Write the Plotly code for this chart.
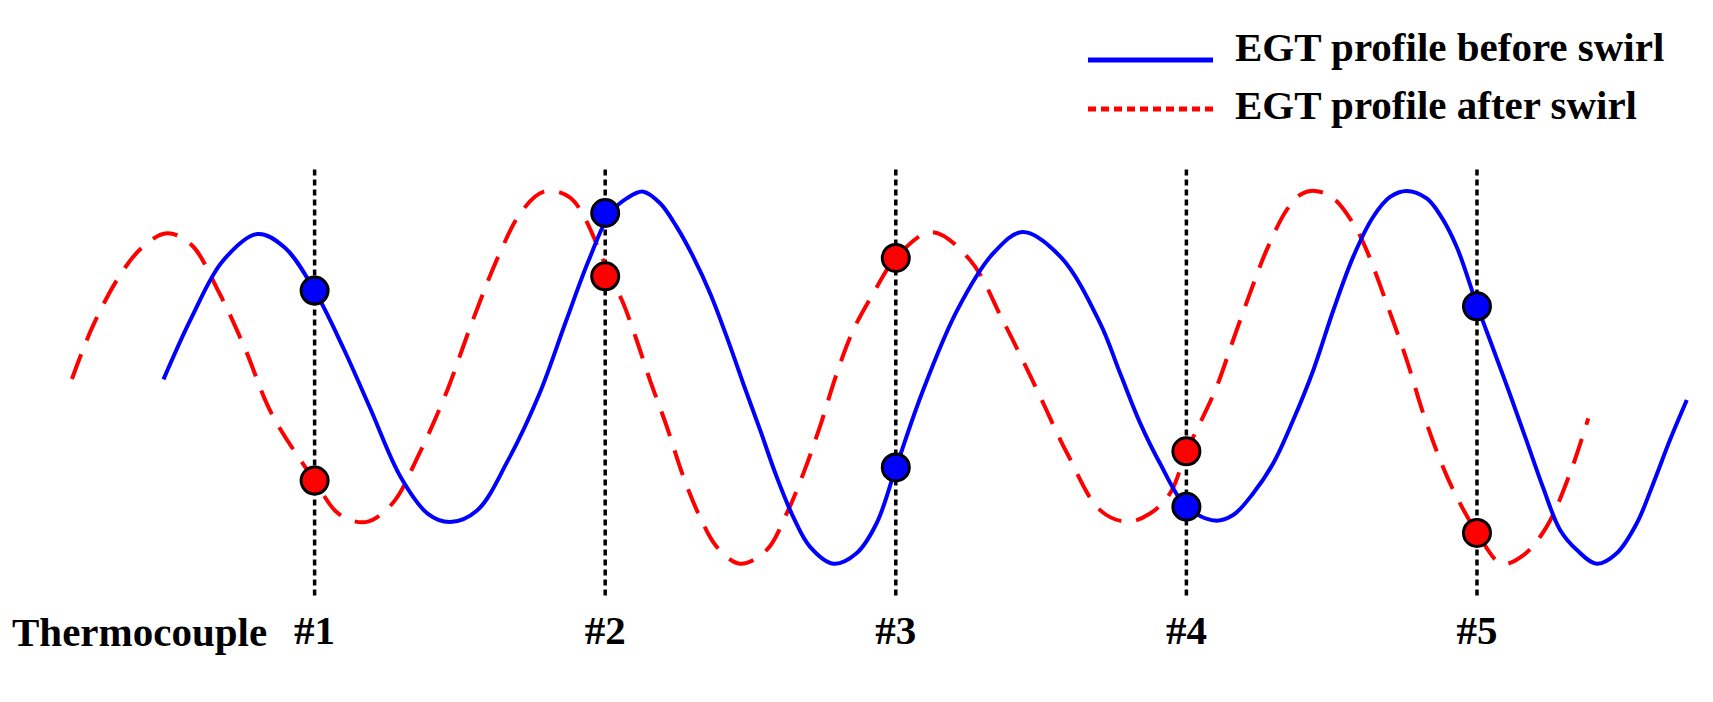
import plotly.graph_objects as go

# posicoes dos termopares e rotulos
tc_pos = [1, 2, 3, 4, 5]
tc_labels = ["#1", "#2", "#3", "#4", "#5"]

# perfil EGT antes do swirl
before_x = [0.480, 0.576, 0.684, 0.804, 0.898, 1.000, 1.098, 1.190, 1.297, 1.390,
            1.466, 1.559, 1.665, 1.773, 1.865, 1.942, 2.017, 2.074, 2.131, 2.189,
            2.246, 2.303, 2.361, 2.418, 2.475, 2.533, 2.590, 2.647, 2.705, 2.785,
            2.865, 2.934, 3.000, 3.090, 3.211, 3.335, 3.436, 3.568, 3.703, 3.772,
            3.841, 3.909, 4.000, 4.098, 4.161, 4.230, 4.299, 4.368, 4.437, 4.506,
            4.574, 4.643, 4.701, 4.758, 4.827, 4.873, 4.930, 5.000, 5.056, 5.114,
            5.171, 5.228, 5.286, 5.343, 5.412, 5.481, 5.550, 5.607, 5.664, 5.722]
before_y = [0.492, 0.656, 0.808, 0.880, 0.843, 0.729, 0.577, 0.417, 0.230, 0.133,
            0.111, 0.142, 0.275, 0.452, 0.647, 0.807, 0.935, 0.975, 0.993, 0.962,
            0.899, 0.819, 0.722, 0.606, 0.481, 0.357, 0.232, 0.125, 0.045, 0.000,
            0.028, 0.108, 0.255, 0.455, 0.676, 0.828, 0.885, 0.818, 0.642, 0.508,
            0.375, 0.268, 0.152, 0.115, 0.130, 0.188, 0.268, 0.384, 0.517, 0.677,
            0.819, 0.926, 0.979, 0.995, 0.975, 0.931, 0.846, 0.690, 0.573, 0.451,
            0.327, 0.202, 0.090, 0.037, 0.000, 0.028, 0.108, 0.215, 0.330, 0.437]

# perfil EGT depois do swirl
after_x = [0.165, 0.239, 0.331, 0.408, 0.492, 0.576, 0.669, 0.759, 0.853, 1.000,
           1.083, 1.175, 1.267, 1.359, 1.451, 1.543, 1.635, 1.712, 1.789, 1.881,
           2.017, 2.062, 2.108, 2.154, 2.212, 2.269, 2.326, 2.384, 2.464, 2.556,
           2.625, 2.682, 2.739, 2.797, 2.854, 2.923, 3.000, 3.124, 3.256, 3.368,
           3.481, 3.590, 3.703, 3.795, 3.875, 3.944, 4.000, 4.047, 4.104, 4.161,
           4.219, 4.276, 4.345, 4.391, 4.442, 4.506, 4.574, 4.620, 4.689, 4.758,
           4.815, 4.873, 4.918, 5.000, 5.085, 5.160, 5.240, 5.320, 5.383]
after_y = [0.493, 0.638, 0.771, 0.845, 0.882, 0.851, 0.727, 0.577, 0.399, 0.222,
           0.133, 0.111, 0.160, 0.292, 0.452, 0.647, 0.825, 0.940, 0.993, 0.976,
           0.768, 0.695, 0.597, 0.490, 0.366, 0.232, 0.125, 0.045, 0.000, 0.037,
           0.135, 0.241, 0.366, 0.508, 0.624, 0.722, 0.816, 0.885, 0.810, 0.650,
           0.472, 0.294, 0.143, 0.112, 0.134, 0.188, 0.299, 0.375, 0.472, 0.597,
           0.722, 0.837, 0.944, 0.984, 0.995, 0.975, 0.908, 0.837, 0.695, 0.544,
           0.401, 0.277, 0.197, 0.083, 0.000, 0.023, 0.099, 0.241, 0.388]

# leituras dos termopares
tc_before = [0.729, 0.936, 0.257, 0.152, 0.687]
tc_after = [0.222, 0.767, 0.816, 0.300, 0.082]

FONT = "Liberation Serif"
W, H, B = 1705, 694, 90   # a pagina tem 8px de margem no body
PH = H - B

fig = go.Figure()

fig.add_trace(go.Scatter(x=after_x, y=after_y, mode="lines",
                         line=dict(color="#ff0000", width=4, dash="26px,15px",
                                   shape="spline", smoothing=1.0),
                         name="EGT profile after swirl"))
fig.add_trace(go.Scatter(x=before_x, y=before_y, mode="lines",
                         line=dict(color="#0000ff", width=4,
                                   shape="spline", smoothing=1.0),
                         name="EGT profile before swirl"))
fig.add_trace(go.Scatter(x=tc_pos, y=tc_after, mode="markers",
                         marker=dict(color="#ff0000", size=27,
                                     line=dict(color="black", width=3))))
fig.add_trace(go.Scatter(x=tc_pos, y=tc_before, mode="markers",
                         marker=dict(color="#0000ff", size=27,
                                     line=dict(color="black", width=3))))

# linhas verticais pontilhadas nos termopares
for p in tc_pos:
    fig.add_shape(type="line", xref="x", yref="y", x0=p, x1=p, y0=-0.085, y1=1.053,
                  line=dict(color="black", width=3.5, dash="6px,4px"), layer="below")

# legenda desenhada a mao (linhas longas como no original)
fig.add_shape(type="line", xref="paper", yref="paper", x0=1080 / W, x1=1205 / W,
              y0=1 - 52 / PH, y1=1 - 52 / PH, line=dict(color="#0000ff", width=5))
fig.add_shape(type="line", xref="paper", yref="paper", x0=1080 / W, x1=1209 / W,
              y0=1 - 101 / PH, y1=1 - 101 / PH,
              line=dict(color="#ff0000", width=5, dash="8px,5px"))
fig.add_annotation(text="EGT profile before swirl", xref="paper", yref="paper",
                   x=1225 / W, y=1 - 39 / PH, xanchor="left", yanchor="middle",
                   showarrow=False, font=dict(family=FONT, size=41, color="black", weight="bold"))
fig.add_annotation(text="EGT profile after swirl", xref="paper", yref="paper",
                   x=1225 / W, y=1 - 97 / PH, xanchor="left", yanchor="middle",
                   showarrow=False, font=dict(family=FONT, size=41, color="black", weight="bold"))
fig.add_annotation(text="Thermocouple", xref="paper", yref="paper",
                   x=2 / W, y=1 - 624 / PH, xanchor="left", yanchor="middle",
                   showarrow=False, font=dict(family=FONT, size=41, color="black", weight="bold"))

fig.update_layout(
    width=W, height=H,
    margin=dict(l=0, r=0, t=0, b=B),
    paper_bgcolor="white", plot_bgcolor="white",
    showlegend=False,
    xaxis=dict(range=[-0.0551, 5.8122], showgrid=False, zeroline=False, showline=False,
               tickvals=tc_pos, ticktext=tc_labels, ticks="", ticklabelstandoff=-10,
               tickfont=dict(family=FONT, size=41, color="black", weight="bold")),
    yaxis=dict(range=[-0.1289, 1.4831], visible=False),
)

fig.write_html("out.html")
